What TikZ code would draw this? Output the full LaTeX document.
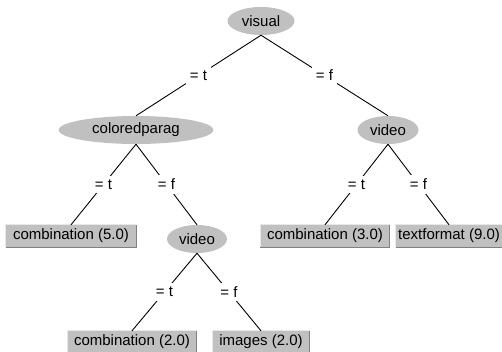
\documentclass[tikz,border=0pt]{standalone}
\usepackage{fontspec}
\setmainfont{Liberation Sans}
\usetikzlibrary{shapes.geometric, positioning}
\definecolor{nodegray}{RGB}{192,192,192}
\definecolor{bevlight}{RGB}{232,232,232}
\definecolor{bevdark}{RGB}{128,128,128}
\tikzstyle{attr} = [ellipse, fill=nodegray, inner sep=0pt, minimum height=28pt, font=\fontsize{15}{17}\selectfont]
\tikzstyle{leaf} = [rectangle, fill=nodegray, inner sep=0pt, minimum height=22pt, font=\fontsize{15}{17}\selectfont]
\tikzstyle{branch} = [fill=white, inner sep=4pt, font=\fontsize{15}{17}\selectfont]
\tikzstyle{edge} = [black, line width=0.9pt]

\begin{document}
\begin{tikzpicture}[x=1pt, y=-1pt]
\useasboundingbox (0,0) rectangle (502,352);

% Attributes
\node (visual) [attr, minimum width=67pt] at (261,21) {visual};
\node (colp) [attr, minimum width=155pt] at (136,130) {coloredparag};
\node (videoR) [attr, minimum width=61pt] at (388,130) {video};
\node (videoM) [attr, minimum width=60pt] at (197,239) {video};

% Leaves
\node (comb5) [leaf, minimum width=130pt] at (71,236) {combination (5.0)};
\node (comb3) [leaf, minimum width=129pt] at (325,236) {combination (3.0)};
\node (text9) [leaf, minimum width=106pt] at (449,236) {textformat (9.0)};
\node (comb2) [leaf, minimum width=128pt] at (132,342) {combination (2.0)};
\node (img2) [leaf, minimum width=97pt] at (261,342) {images (2.0)};

% raised look of the leaves
\foreach \n in {comb5,comb3,text9,comb2,img2} {
  \draw [bevlight, line width=1pt] (\n.south west) |- (\n.north east);
  \draw [bevdark, line width=1pt] (\n.south west) -| (\n.north east);
}

% Branches
\draw [edge] (visual.south) -- node[branch] {= t} (colp.north);
\draw [edge] (visual.south) -- node[branch] {= f} (videoR.north);
\draw [edge] (colp.south) -- node[branch] {= t} (comb5.north);
\draw [edge] (colp.south) -- node[branch] {= f} (videoM.north);
\draw [edge] (videoR.south) -- node[branch] {= t} (comb3.north);
\draw [edge] (videoR.south) -- node[branch] {= f} (text9.north);
\draw [edge] (videoM.south) -- node[branch] {= t} (comb2.north);
\draw [edge] (videoM.south) -- node[branch] {= f} (img2.north);

\end{tikzpicture}
\end{document}
